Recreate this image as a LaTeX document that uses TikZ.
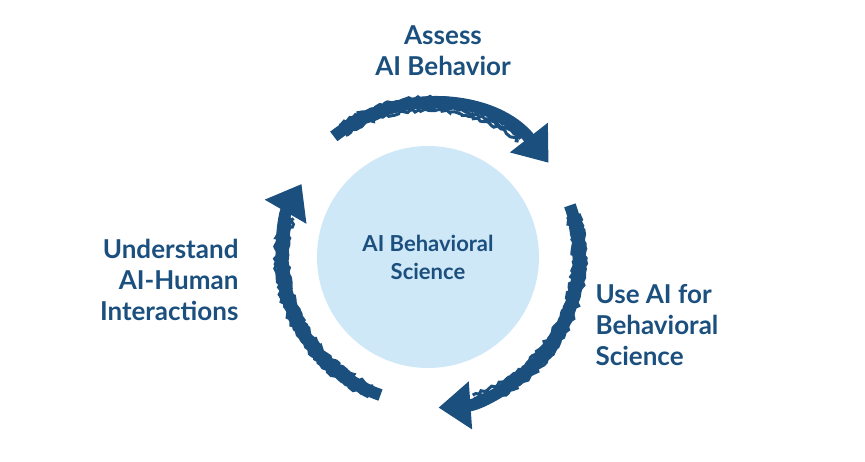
\documentclass[tikz,border=0pt]{standalone}
\usepackage{fontspec}
\setmainfont{Lato}
\usetikzlibrary{arrows.meta,decorations.pathmorphing,calc}
\definecolor{dk}{HTML}{1B4F7E}
\definecolor{lb}{HTML}{CFE8F8}
\begin{document}
\begin{tikzpicture}[x=1pt,y=1pt,
  lbl/.style={text=dk,font=\fontsize{26}{31}\selectfont\bfseries,align=#1},
  rough/.style={dk,line width=3pt,decorate,decoration={random steps,segment length=3pt,amplitude=1.6pt}}]
\useasboundingbox (0,0) rectangle (865,461);
\coordinate (c) at (428,204);
\node[circle,fill=lb,minimum size=222pt,inner sep=0] (circ) at (c) {};
\node[lbl=center,font=\fontsize{22}{28}\selectfont\bfseries] (ct) at (c) {AI Behavioral\\Science};
\foreach \s/\e/\r [count=\i] in {124/38/153, 16/-86/151, 247/150/146}{
  \pgfmathsetmacro{\dir}{sign(\e-\s)}
  \pgfmathsetmacro{\ee}{\e-14*\dir}
  \pgfmathsetmacro{\ss}{\s-4*\dir}
  \foreach \o in {-6,-3,0,3,6}{
    \draw[rough] ($(c)+(\s:\r+\o)$) arc[start angle=\s,end angle=\ee,radius=\r+\o];
  }
  \draw[dk,line width=12pt,-{Triangle[width=46pt,length=32pt]}] ($(c)+(\ss:\r)$) arc[start angle=\ss,end angle=\e,radius=\r];
}
\node[lbl=center] (t1) at (443,410) {Assess\\AI Behavior};
\node[lbl=left,anchor=west] (t2) at (592,136) {Use AI for\\Behavioral\\Science};
\node[lbl=right,anchor=east] (t3) at (242,181) {Understand\\AI-Human\\Interactions};
\end{tikzpicture}
\end{document}
